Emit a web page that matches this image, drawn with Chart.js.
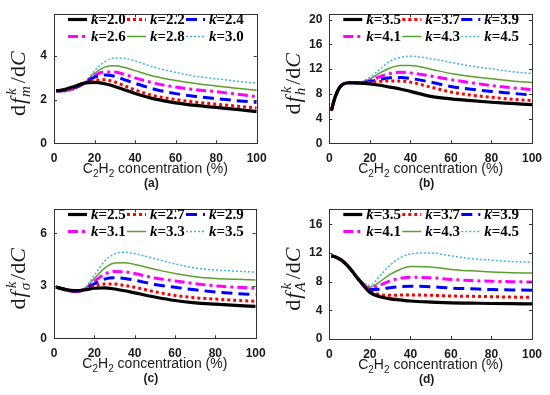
<!DOCTYPE html>
<html><head><meta charset="utf-8">
<script src="https://cdn.jsdelivr.net/npm/chart.js@4.4.1/dist/chart.umd.min.js"></script>
<style>
html,body{margin:0;padding:0;background:#fff;width:550px;height:395px;overflow:hidden}
canvas{position:absolute}
</style></head><body>
<canvas id="pa" width="275" height="197" style="left:0;top:0"></canvas>
<canvas id="pb" width="275" height="197" style="left:275px;top:0"></canvas>
<canvas id="pc" width="275" height="200" style="left:0;top:195px"></canvas>
<canvas id="pd" width="275" height="200" style="left:275px;top:195px"></canvas>
<script>
// C2H2 concentration (%) sample points
const concentration = [1, 3, 6, 10, 15, 20, 25, 30, 35, 40, 50, 60, 70, 80, 90, 100];
const xTicks = [0, 20, 40, 60, 80, 100];

// (a) df_m^k/dC
const kValuesA = ['2.0', '2.2', '2.4', '2.6', '2.8', '3.0'];
const dfmA = [
  [2.40, 2.42, 2.48, 2.60, 2.75, 2.78, 2.72, 2.60, 2.44, 2.28, 2.02, 1.85, 1.73, 1.64, 1.55, 1.45],
  [2.40, 2.41, 2.45, 2.57, 2.75, 2.88, 2.90, 2.80, 2.62, 2.44, 2.16, 2.00, 1.88, 1.79, 1.70, 1.61],
  [2.40, 2.40, 2.43, 2.54, 2.75, 3.02, 3.12, 3.06, 2.90, 2.74, 2.46, 2.27, 2.14, 2.04, 1.95, 1.87],
  [2.40, 2.39, 2.41, 2.52, 2.75, 3.10, 3.26, 3.26, 3.14, 2.99, 2.74, 2.57, 2.45, 2.36, 2.25, 2.13],
  [2.40, 2.38, 2.39, 2.49, 2.75, 3.20, 3.48, 3.54, 3.46, 3.32, 3.05, 2.87, 2.73, 2.62, 2.52, 2.42],
  [2.40, 2.37, 2.36, 2.45, 2.75, 3.32, 3.72, 3.90, 3.88, 3.76, 3.46, 3.24, 3.06, 2.95, 2.84, 2.75]
];
const yTicksA = [0, 2, 4];

// (b) df_h^k/dC
const kValuesB = ['3.5', '3.7', '3.9', '4.1', '4.3', '4.5'];
const dfhB = [
  [5.3, 7.6, 9.4, 9.8, 9.75, 9.6, 9.4, 9.1, 8.8, 8.4, 7.6, 7.2, 6.9, 6.65, 6.45, 6.25],
  [5.3, 7.6, 9.4, 9.8, 9.8, 9.85, 10.0, 10.1, 10.1, 9.9, 9.1, 8.3, 7.8, 7.45, 7.15, 6.9],
  [5.3, 7.6, 9.4, 9.8, 9.8, 10.0, 10.35, 10.6, 10.65, 10.5, 9.9, 9.2, 8.75, 8.4, 8.1, 7.8],
  [5.3, 7.6, 9.4, 9.8, 9.8, 10.2, 10.8, 11.3, 11.5, 11.4, 10.9, 10.3, 9.8, 9.35, 9.0, 8.7],
  [5.3, 7.6, 9.4, 9.8, 9.85, 10.4, 11.4, 12.2, 12.6, 12.6, 12.0, 11.3, 10.8, 10.45, 10.1, 9.85],
  [5.3, 7.6, 9.4, 9.8, 9.9, 10.7, 12.0, 13.3, 13.9, 14.1, 13.7, 13.1, 12.5, 12.05, 11.6, 11.3]
];
const yTicksB = [0, 4, 8, 12, 16, 20];

// (c) df_sigma^k/dC
const kValuesC = ['2.5', '2.7', '2.9', '3.1', '3.3', '3.5'];
const dfsC = [
  [2.93, 2.87, 2.78, 2.72, 2.76, 2.86, 2.88, 2.82, 2.72, 2.60, 2.36, 2.16, 2.03, 1.95, 1.88, 1.82],
  [2.93, 2.87, 2.77, 2.70, 2.76, 2.98, 3.10, 3.10, 3.02, 2.92, 2.66, 2.45, 2.32, 2.24, 2.17, 2.12],
  [2.93, 2.86, 2.76, 2.68, 2.78, 3.12, 3.38, 3.46, 3.42, 3.32, 3.08, 2.92, 2.77, 2.65, 2.56, 2.50],
  [2.93, 2.86, 2.75, 2.66, 2.80, 3.26, 3.66, 3.82, 3.80, 3.70, 3.45, 3.28, 3.12, 3.00, 2.92, 2.86],
  [2.93, 2.85, 2.73, 2.64, 2.82, 3.42, 4.00, 4.30, 4.32, 4.22, 3.95, 3.70, 3.52, 3.42, 3.37, 3.33],
  [2.93, 2.85, 2.72, 2.62, 2.84, 3.60, 4.40, 4.82, 4.92, 4.84, 4.55, 4.25, 4.02, 3.90, 3.84, 3.78]
];
const yTicksC = [0, 3, 6];

// (d) df_A^k/dC
const kValuesD = ['3.5', '3.7', '3.9', '4.1', '4.3', '4.5'];
const dfaD = [
  [11.6, 11.45, 11.0, 9.9, 8.1, 6.5, 5.9, 5.6, 5.45, 5.3, 5.15, 5.05, 5.0, 4.95, 4.92, 4.9],
  [11.6, 11.45, 11.0, 9.9, 8.1, 6.7, 6.2, 6.1, 6.12, 6.15, 6.1, 6.0, 5.95, 5.9, 5.85, 5.8],
  [11.6, 11.45, 11.0, 9.9, 8.15, 6.9, 6.95, 7.15, 7.3, 7.35, 7.3, 7.1, 7.0, 6.9, 6.85, 6.8],
  [11.6, 11.45, 11.0, 9.9, 8.2, 7.05, 7.5, 8.1, 8.45, 8.6, 8.55, 8.3, 8.15, 8.05, 8.0, 7.95],
  [11.6, 11.45, 11.0, 9.9, 8.25, 7.2, 8.0, 9.0, 9.7, 10.1, 10.05, 9.7, 9.5, 9.35, 9.25, 9.2],
  [11.6, 11.45, 11.0, 9.9, 8.3, 7.45, 8.8, 10.3, 11.3, 11.85, 12.0, 11.6, 11.2, 11.0, 10.8, 10.7]
];
const yTicksD = [0, 4, 8, 12, 16];

// ---- styles ----
const lineStyles = [
  {color: '#000000', width: 3.2, dash: []},
  {color: '#ff0000', width: 3, dash: [3, 3]},
  {color: '#0000ff', width: 3, dash: [11, 6]},
  {color: '#ff00ff', width: 3, dash: [10, 4, 3, 4]},
  {color: '#5aa02c', width: 1.5, dash: []},
  {color: '#3db4e8', width: 1.5, dash: [2, 2]}
];
const AXIS = '#333333';
const TEXT = '#1a1a1a';
const SANS = '"Liberation Sans", Arial, Helvetica, sans-serif';
const SERIF = '"Liberation Serif", "Times New Roman", serif';

const panels = [
  {id: 'pa', keys: kValuesA, series: dfmA, yTicks: yTicksA, ymax: 5.9, sub: 'm', tag: '(a)',
   area: {l: 54, r: 256.7, t: 7, b: 143.3}},
  {id: 'pb', keys: kValuesB, series: dfhB, yTicks: yTicksB, ymax: 20.9, sub: 'h', tag: '(b)',
   area: {l: 54.3, r: 260, t: 9, b: 143.3}},
  {id: 'pc', keys: kValuesC, series: dfsC, yTicks: yTicksC, ymax: 7.38, sub: 'σ', tag: '(c)',
   area: {l: 54, r: 255.7, t: 7.3, b: 143.3}},
  {id: 'pd', keys: kValuesD, series: dfaD, yTicks: yTicksD, ymax: 18.1, sub: 'A', tag: '(d)',
   area: {l: 54.3, r: 260, t: 7.3, b: 144}}
];

function drawRuns(ctx, x, y, runs, align) {
  let total = 0;
  runs.forEach(r => { ctx.font = r.font; r.w = ctx.measureText(r.t).width; if (!r.stack) total += r.w + (r.dx || 0); });
  let cx = align === 'center' ? x - total / 2 : x;
  let lastX = cx;
  runs.forEach(r => {
    ctx.font = r.font;
    if (r.stack) { ctx.fillText(r.t, lastX + (r.dx || 0), y + (r.dy || 0)); return; }
    lastX = cx;
    ctx.fillText(r.t, cx + (r.dx || 0), y + (r.dy || 0));
    cx += r.w + (r.dx || 0);
  });
}

const decorPlugin = {
  id: 'decor',
  afterDatasetsDraw(chart, args, opts) {
    const p = opts.panel;
    const ctx = chart.ctx;
    const ca = chart.chartArea;
    const xs = chart.scales.x, ys = chart.scales.y;
    ctx.save();
    ctx.strokeStyle = AXIS;
    ctx.lineWidth = 1;
    ctx.setLineDash([]);
    ctx.strokeRect(Math.round(ca.left) + 0.5, Math.round(ca.top) + 0.5,
                   Math.round(ca.right - ca.left), Math.round(ca.bottom - ca.top));
    const TL = 3;
    ctx.beginPath();
    xTicks.forEach(v => {
      const px = Math.round(xs.getPixelForValue(v)) + 0.5;
      ctx.moveTo(px, ca.bottom); ctx.lineTo(px, ca.bottom - TL);
      ctx.moveTo(px, ca.top); ctx.lineTo(px, ca.top + TL);
    });
    p.yTicks.forEach(v => {
      const py = Math.round(ys.getPixelForValue(v)) + 0.5;
      ctx.moveTo(ca.left, py); ctx.lineTo(ca.left + TL, py);
      ctx.moveTo(ca.right, py); ctx.lineTo(ca.right - TL, py);
    });
    ctx.stroke();

    // legend (2 rows x 3 columns, inside top of axes)
    const colOff = [14, 73, 132];
    const rowY = [19.5, 36.5];
    chart.data.datasets.forEach((ds, i) => {
      const row = Math.floor(i / 3), col = i % 3;
      const x0 = ca.left + colOff[col];
      const y = rowY[row];
      ctx.beginPath();
      ctx.strokeStyle = ds.borderColor;
      ctx.lineWidth = ds.borderWidth;
      ctx.setLineDash(ds.borderDash || []);
      ctx.lineCap = 'butt';
      ctx.moveTo(x0, y); ctx.lineTo(x0 + 19, y);
      ctx.stroke();
      ctx.setLineDash([]);
      ctx.fillStyle = '#000';
      ctx.textBaseline = 'middle';
      ctx.textAlign = 'left';
      const val = ds.label.replace('k=', '');
      drawRuns(ctx, x0 + 23, y + 1, [
        {t: 'k', font: `italic bold 15px ${SERIF}`},
        {t: '=' + val, font: `bold 15px ${SERIF}`}
      ], 'left');
    });

    // x axis title
    ctx.fillStyle = TEXT;
    ctx.textBaseline = 'alphabetic';
    ctx.textAlign = 'left';
    const xc = (ca.left + ca.right) / 2;
    const F = `14px ${SANS}`, Fs = `10px ${SANS}`;
    drawRuns(ctx, xc, ca.bottom + 30, [
      {t: 'C', font: F}, {t: '2', font: Fs, dy: 4}, {t: 'H', font: F}, {t: '2', font: Fs, dy: 4},
      {t: ' concentration (%)', font: F}
    ], 'center');
    ctx.font = `bold 12px ${SANS}`;
    ctx.textAlign = 'center';
    ctx.fillText(p.tag, xc - 4, ca.bottom + 44);

    // y axis title: d f_sub^k / d C
    ctx.save();
    ctx.translate(25, (ca.top + ca.bottom) / 2 + 5);
    ctx.rotate(-Math.PI / 2);
    ctx.textAlign = 'left';
    ctx.textBaseline = 'alphabetic';
    const YF = 22, YS = 15;
    drawRuns(ctx, 0, 0, [
      {t: 'd', font: `${YF}px ${SERIF}`},
      {t: 'f', font: `italic ${YF}px ${SERIF}`, dx: 1},
      {t: p.sub, font: `italic ${YS}px ${SERIF}`, dy: 5, dx: 1},
      {t: 'k', font: `italic ${YS}px ${SERIF}`, dy: -9, dx: 3, stack: true},
      {t: '/d', font: `${YF}px ${SERIF}`, dx: 3},
      {t: 'C', font: `italic ${YF}px ${SERIF}`}
    ], 'center');
    ctx.restore();
    ctx.restore();
  }
};

function makeChart(p) {
  const canvas = document.getElementById(p.id);
  const W = canvas.width, H = canvas.height;
  const tickFont = {family: SANS, size: 12, weight: 'bold'};
  new Chart(canvas, {
    type: 'line',
    data: {
      datasets: p.series.map((vals, i) => ({
        label: 'k=' + p.keys[i],
        data: concentration.map((x, j) => ({x: x, y: vals[j]})),
        borderColor: lineStyles[i].color,
        borderWidth: lineStyles[i].width,
        borderDash: lineStyles[i].dash,
        borderCapStyle: 'butt',
        pointRadius: 0,
        fill: false,
        cubicInterpolationMode: 'monotone'
      }))
    },
    options: {
      responsive: false,
      animation: false,
      devicePixelRatio: 1,
      layout: {padding: {left: 0, top: p.area.t, right: W - p.area.r, bottom: 0}},
      plugins: {legend: {display: false}, tooltip: {enabled: false}, title: {display: false},
                decor: {panel: p}},
      scales: {
        x: {
          type: 'linear', min: 0, max: 100,
          afterBuildTicks: s => { s.ticks = xTicks.map(v => ({value: v})); },
          ticks: {font: tickFont, color: TEXT, padding: 8, maxRotation: 0, autoSkip: false},
          grid: {display: false, drawTicks: false},
          border: {display: false},
          afterFit: s => { s.height = H - p.area.b; }
        },
        y: {
          type: 'linear', min: 0, max: p.ymax,
          afterBuildTicks: s => { s.ticks = p.yTicks.map(v => ({value: v})); },
          ticks: {font: tickFont, color: TEXT, padding: 7, autoSkip: false},
          grid: {display: false, drawTicks: false},
          border: {display: false},
          afterFit: s => { s.width = p.area.l; }
        }
      }
    },
    plugins: [decorPlugin]
  });
}
panels.forEach(makeChart);
</script>
</body></html>
